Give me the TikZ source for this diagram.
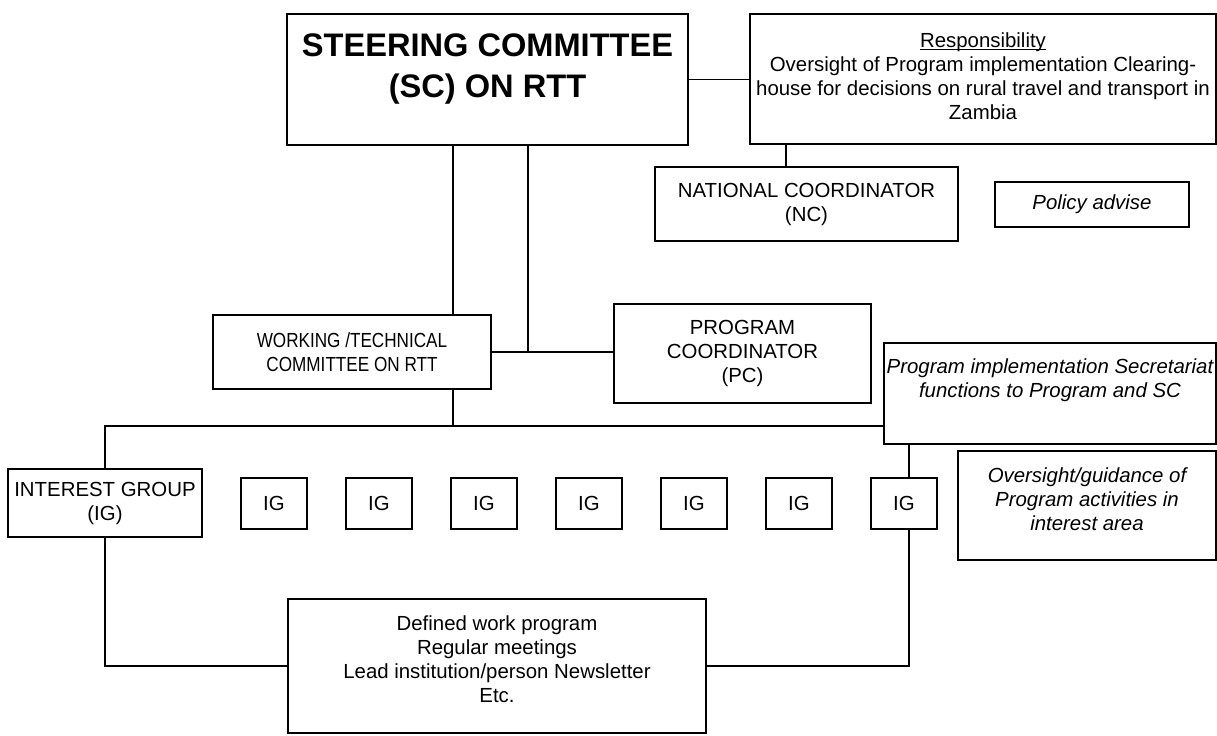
\documentclass[tikz,border=0pt]{standalone}
\usepackage{amsmath,amssymb,tikz,xcolor}
\usepackage{fontspec}
\setmainfont{Liberation Sans}
\newfontfamily\narrowfont[FakeStretch=0.84]{Liberation Sans}
\newcommand\basefont{\fontsize{10.2}{12}\selectfont}
\newcommand\ruleunder[1]{\setbox0\hbox{#1}\rlap{\rule[-1.4pt]{\wd0}{0.5pt}}\box0}

\begin{document}
\begin{tikzpicture}[x=0.5pt,y=-0.5pt,
    every node/.style={font=\basefont},
    box/.style={draw,line width=0.9pt,inner sep=0pt,align=center},
    igbox/.style={box,minimum width=33pt,minimum height=25.5pt},
    txt/.style={inner sep=0pt,align=center,anchor=north},
    link/.style={line width=0.8pt}]
                \useasboundingbox (0,0) rectangle (1217,735);
                \node[box,minimum width=200.5pt,minimum height=65.5pt] (sc) at (487.5,79.5) {};
                \node[box,minimum width=233pt,minimum height=65pt] (resp) at (983,79) {};
                \node[box,minimum width=151.5pt,minimum height=37pt] (nc) at (806.5,204) {NATIONAL COORDINATOR\\(NC)};
                \node[box,minimum width=97pt,minimum height=22.5pt,font=\basefont\itshape] (pol) at (1092,204.5) {Policy advise};
                \node[box,minimum width=139pt,minimum height=37pt,font=\basefont\narrowfont] (wtc) at (352,352) {WORKING /TECHNICAL\\COMMITTEE ON RTT};
                \node[box,minimum width=128.5pt,minimum height=49.5pt] (pc) at (742.5,353.5) {PROGRAM\\COORDINATOR\\(PC)};
                \node[box,minimum width=166pt,minimum height=50.5pt] (sec) at (1050,393.5) {};
                \node[box,minimum width=129pt,minimum height=54.5pt] (ovs) at (1087,505.5) {};
                \node[box,minimum width=97pt,minimum height=34pt] (ig) at (105,503) {INTEREST GROUP\\(IG)};
                \node[igbox] (ig1) at (274,503.5) {IG};
                \node[igbox] (ig2) at (379,503.5) {IG};
                \node[igbox] (ig3) at (484,503.5) {IG};
                \node[igbox] (ig4) at (589,503.5) {IG};
                \node[igbox] (ig5) at (694,503.5) {IG};
                \node[igbox] (ig6) at (799,503.5) {IG};
                \node[igbox] (ig7) at (904,503.5) {IG};
                \node[box,minimum width=209pt,minimum height=67pt] (def) at (497,666) {};

                \node[txt,font=\bfseries\fontsize{16.3}{20.8}\selectfont] (sc-text) at (487.5,33) {STEERING COMMITTEE\\(SC) ON RTT};
                \node[txt] (resp-text) at (983,32) {\ruleunder{Responsibility}\\Oversight of Program implementation Clearing-\\house for decisions on rural travel and transport in\\Zambia};
                \node[txt,font=\basefont\itshape] (sec-text) at (1050,358) {Program implementation Secretariat\\functions to Program and SC};
                \node[txt,font=\basefont\itshape] (ovs-text) at (1087,467) {Oversight/guidance of\\Program activities in\\interest area};
                \node[txt] (def-text) at (497,615) {Defined work program\\Regular meetings\\Lead institution/person Newsletter\\Etc.};

                \coordinate (j1) at (453,0);
                \coordinate (j2) at (528,0);
                \coordinate (j3) at (786,0);
                \coordinate (j4) at (909,0);
                \coordinate (bus) at (0,426);

                \draw[link] (sc.east) -- (sc.east -| resp.west);
                \draw[link] (resp.south -| j3) -- (nc.north -| j3);
                \draw[link] (sc.south -| j1) -- (wtc.north -| j1);
                \draw[link] (sc.south -| j2) -- (j2 |- wtc.east);
                \draw[link] (wtc.east) -- (wtc.east -| pc.west);
                \draw[link] (wtc.south -| j1) -- (j1 |- bus);
                \draw[link] (ig.north) |- (sec.west |- bus);
                \draw[link] (sec.south -| j4) -- (ig7.north -| j4);
                \draw[link] (ig7.south -| j4) |- (def.east);
                \draw[link] (ig.south) |- (def.west);
\end{tikzpicture}
\end{document}
